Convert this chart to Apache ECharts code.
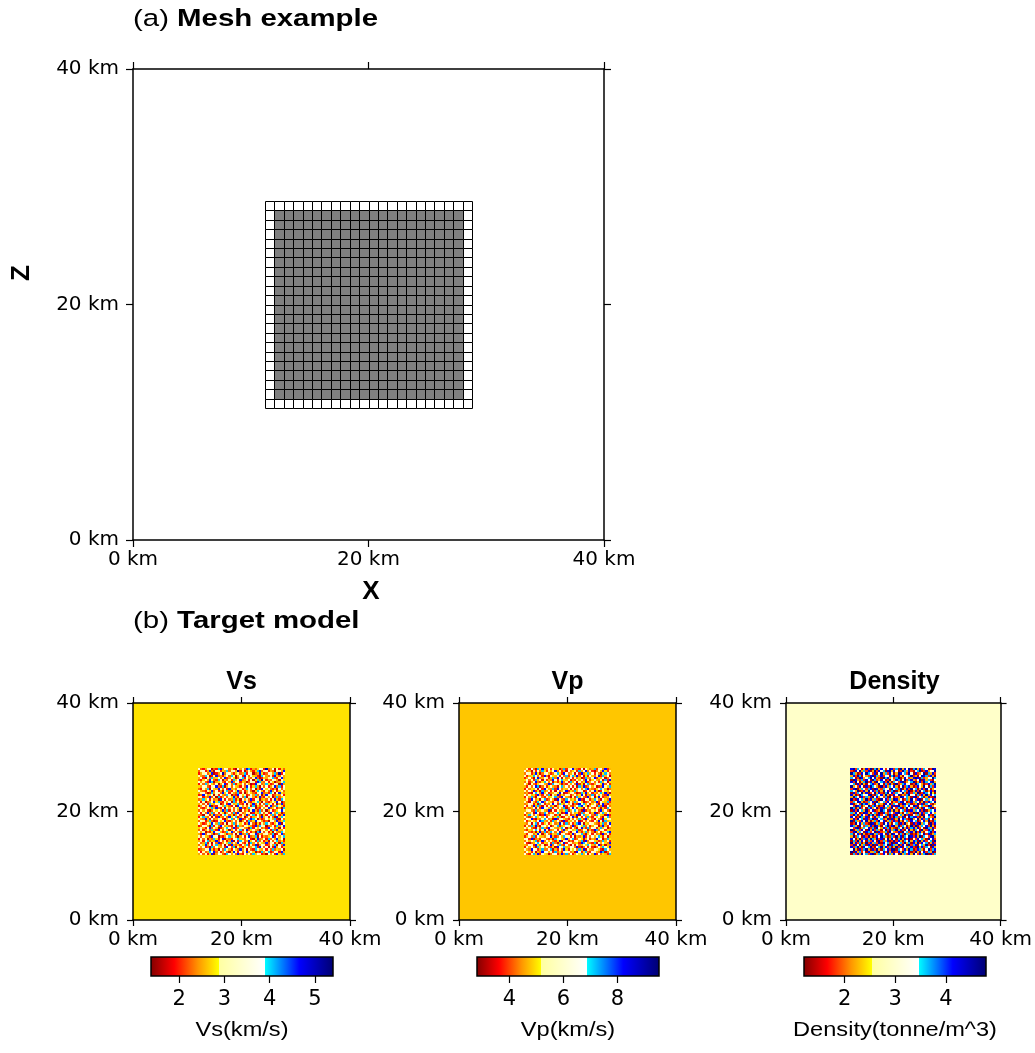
<!DOCTYPE html>
<html><head><meta charset="utf-8">
<script src="https://cdn.jsdelivr.net/npm/echarts@6/dist/echarts.min.js"></script>
<style>html,body{margin:0;padding:0;background:#fff}#c{width:1035px;height:1053px}</style>
</head><body><div id="c"></div>
<script>
// ---------------- DATA ----------------
const domainKm = [0, 40];
const axisTicksKm = [0, 20, 40];
// mesh node positions (km) of panel (a), and the extent of the filled core
const meshNodesKm = [11.2, 12.0, 12.8, 13.6, 14.4, 15.2, 16.0, 16.8, 17.6, 18.4, 19.2, 20.0,
                     20.8, 21.6, 22.4, 23.2, 24.0, 24.8, 25.6, 26.4, 27.2, 28.0, 28.8];
const meshCoreKm = [12, 28];
// extent of the perturbed block in the target models (km)
const anomalyExtentKm = [12, 28];

// colour-scale breakpoints: [min, end of warm part, end of pale part, max]
const vsScale = [1.38, 2.88, 3.89, 5.40];
const vpScale = [2.80, 5.19, 6.86, 9.54];
const densityScale = [1.20, 2.54, 3.46, 4.79];
const vsBarTicks = [2, 3, 4, 5];
const vpBarTicks = [4, 6, 8];
const densityBarTicks = [2, 3, 4];

// background values of each model
const vsBackground = 2.76;
const vpBackground = 4.80;
const densityBackground = 2.94;

// values represented by each code digit in the grids below
const vsLevels = [1.6, 1.95, 2.25, 2.5, 2.72, 3.0, 3.45, 4.05, 4.6, 5.15];
const vpLevels = [3.3, 3.8, 4.3, 4.7, 5.0, 5.5, 6.3, 7.2, 8.2, 9.1];
const densityLevels = [1.35, 1.8, 2.2, 3.3, 2.45, 2.8, 3.1, 3.65, 4.2, 4.6];

// perturbed block, top row first, 40 x 40 cells of level codes
const vsRows = [
"6213560217 8365241063 5287132465 1923605142","2561382065 1437256391 6025314782 5613206538",
"1356248013 6925631452 3716502384 1265372916","5327601582 3146275036 1852643107 6325184263",
"3610527346 2581364025 7163258201 4356721583","2146385217 6032517468 2351604729 5132653064",
"6352187034 5216382561 4302651873 2615402357","1527364250 3681527143 6253018562 3741265083",
"4365215682 1703526431 5286147305 2613582716","2153706438 5261834265 1375260318 6452130625",
"6321548261 3057216482 6135204763 1528361452","3562017365 2846153271 5036421568 2317506843",
"1285346051 6327502186 4512637250 3865124361","5613282507 1362548316 2705631482 1536027245",
"2374615230 8516237140 6352816503 4261583176","6150236847 2153607251 3862145730 6213548602",
"3526174365 0261853472 1605382516 2745160382","1362580216 5374216085 3526170423 6158237541",
"5213647382 1605362548 2137560216 3582461307","2635102546 3827152630 6241583172 5036124685",
"6152837261 5403627185 2365014376 2518637402","3206514823 1675240361 5382671520 4163725138",
"1573260518 3252846713 6025134628 3516208475","5328416235 6103572648 1263875031 2645371062",
"2651372016 4582136250 3617248563 1205638247","6312548637 2150637264 5138620415 3762145806",
"1265307152 8634215073 2654318276 5023617358","4531682640 1357628125 6320715462 3186524061",
"2613527318 5264036157 1582463205 6351728436","6350214865 3127582631 4625130786 2514063275",
"3182653027 6541326058 2371658142 5632701582","5264318560 2136745203 6158237061 3245816357",
"1625032741 5803216574 3265104823 6172538460","3516724382 6251380617 5238461725 1306257241",
"6237150628 1364725386 2150736254 3825614073","2548361573 2605183241 6371528036 5126370528",
"5361207264 3518627053 1462357186 2605183614","1236584130 6275316428 3506217543 6152724360",
"6152376825 1362048516 2583640217 3571265183","3625148036 5217635282 1635274651 2063518427"];
const vpRows = [
"3516207483 2615340271 5683216054 2371562813","6230516274 1536825130 6245173682 5102638415",
"2651384025 6312574186 2350618247 3615204752","5134762518 2064351627 1573826041 6325817360",
"1362058236 5137286052 3615240173 2581436025","4625173605 1328615743 6021536285 1463250718",
"2513682147 6250314825 1736052481 3625173604","6305214563 2817653021 5362814057 2136548261",
"3152687025 1463205736 2615073812 6350128547","1624350618 5327186243 6051362578 3214675302",
"5263814072 3615062358 1427365016 2583016435","2310675284 6123548601 3562017483 6132574820",
"6253418316 2705381426 5136248503 2716352184","1637205621 5346721863 2051736218 3604851236",
"3518624057 1263085217 6342581065 1375206428","5206317582 6431526038 1527364012 5238164371",
"2365140761 3258617425 3602185736 1462058213","6152837205 1624035681 5213678540 3651728062",
"1423605186 5371526370 2685143062 6215304175","3562172453 2806153247 1367520813 2546183620",
"6235086127 5132674018 6253417265 1380257364","1476253018 2365130562 5123806734 6217543081",
"5213674536 1652473015 3682051627 3154620572","2658103257 6230815642 1526374183 5206318465",
"6135426873 2517362081 4352601526 2163850734","3260571614 5146238517 2613785043 6532147258",
"1527382056 3602571346 5281364725 1365028316","5362105273 1865324760 3162058317 2651473502",
"2143676158 5023615283 6534712650 3187256143","6521304827 1376258136 2056831472 5203614578",
"3165248503 6214370562 1382657204 6152308261","1352716432 5683126375 5160324815 2635741503",
"5618023165 2130756428 3671254036 1328560274","2536471382 6352148065 1215637082 5643127351",
"6102357614 3617203581 6523418763 2170536428","3265184250 1582637216 2061523547 6325814032",
"1536207463 5214086573 3652810261 5102637548","5328651372 2670315284 1546273805 3265410763",
"2641503286 6351724156 5230861472 1653287025","6215738154 3025613827 2613547360 5381624317"];
const densityRows = [
"8917302819 0792861398 1709283907 9281730198","1083927180 2918370892 8301972810 3790182639",
"9720183976 1803927185 0298371960 8123907281","2819703218 9072816307 9182036791 2039871820",
"7301982679 3821097823 1790283128 9807123697","0982171830 9712830196 2870391782 1390827103",
"8193027918 2093781920 7318902679 0281973892","3708192037 8129307182 0912786301 9732018279",
"9261830819 7320918273 8203917820 1862930718","1890273178 0982173609 3719028193 7028193026",
"7329018293 8170293817 9028371902 8193702819","0817392801 3928107938 1763920817 2901873940",
"8201973689 1073829201 8390217963 0718292837","2973081720 9382617093 0129837208 9137028109",
"9108372918 2710938172 9823017293 1890372681","1739820173 8092371860 2178930182 7302918739",
"8023197826 1937208391 7301982701 2918073102","3198702391 7820193728 0892173869 8037219826",
"9702813078 2391807219 3178029317 1920837091","0819372913 8012973082 9203718082 7381902738",
"7283019820 3719082173 1892037219 0928173862","1970283197 9208137091 8037291803 2719038107",
"8301972803 1827390281 9712803978 8102937219","2819370817 9083712908 0293871092 3928170382",
"9072183920 2719380271 8192037183 7013829107","0193827109 8027193820 3708192608 1892730918",
"8720931728 1982037918 9281730291 9027381920","3189027381 7093281702 1073928178 2813097281",
"9027183092 8172039182 7928103920 7309218703","1892730871 3908127093 2180937182 9182037918",
"7038192018 9271830829 8307192701 0273918027","2917308192 0183972017 1928073981 8290731892",
"8302917829 7291803928 3079281903 1837209381","0719283071 8309172801 9182073928 7092813709",
"9281702918 2719083719 0837192708 2918370281","1803927081 9082173908 7291830917 8037291908",
"8179208379 1037928170 2918037281 0928173082","3920817920 8192073819 9073182970 1872039178",
"9082713082 2709381928 0182973801 9203817290","0718293718 9027183072 8309271829 3182790817"];

// ---------------- COLOUR MAP (style) ----------------
const SEG_WARM = [[0,'#800000'],[0.35,'#ff0000'],[0.7,'#ff9600'],[1,'#ffff00']];
const SEG_PALE = [[0,'#ffffa0'],[1,'#ffffff']];
const SEG_COOL = [[0,'#00ffff'],[0.5,'#0000ff'],[1,'#000070']];
function hexRgb(h){return [1,3,5].map(i=>parseInt(h.slice(i,i+2),16));}
function interp(stops,u){
  u=Math.max(0,Math.min(1,u));
  for(let i=1;i<stops.length;i++){
    if(u<=stops[i][0]){
      const [u0,c0]=stops[i-1],[u1,c1]=stops[i];
      const t=(u-u0)/((u1-u0)||1);const a=hexRgb(c0),b=hexRgb(c1);
      return 'rgb('+a.map((x,k)=>Math.round(x+(b[k]-x)*t)).join(',')+')';
    }
  }
  return stops[stops.length-1][1];
}
function cmap(v,s){
  const [mn,a,b,mx]=s;
  if(v<a) return interp(SEG_WARM,(v-mn)/(a-mn));
  if(v<b) return interp(SEG_PALE,(v-a)/(b-a));
  return interp(SEG_COOL,(v-b)/(mx-b));
}
function sampledColors(s){const out=[];const N=361;for(let i=0;i<N;i++){out.push(cmap(s[0]+(s[3]-s[0])*i/(N-1),s));}return out;}
function barStops(s){
  const [mn,a,b,mx]=s,span=mx-mn;const out=[];
  [[mn,a,SEG_WARM],[a,b,SEG_PALE],[b,mx,SEG_COOL]].forEach(([lo,hi,st])=>
    st.forEach(([u,c])=>out.push({offset:(lo+u*(hi-lo)-mn)/span,color:c})));
  return out;
}

// ---------------- BUILD SERIES DATA ----------------
function buildField(rows,levels,bg){
  const data=[[domainKm[0],domainKm[0],domainKm[1],domainKm[1],bg]];
  const grid=rows.map(r=>r.replace(/\s/g,''));
  const [e0,e1]=anomalyExtentKm;const dy=(e1-e0)/grid.length;
  grid.forEach((row,r)=>{
    const dx=(e1-e0)/row.length;
    for(let c=0;c<row.length;c++){
      const y1=e1-r*dy;
      data.push([e0+c*dx,y1-dy,e0+(c+1)*dx,y1,levels[+row[c]]]);
    }
  });
  return data;
}
const meshData=[];
for(let i=0;i<meshNodesKm.length-1;i++){
  for(let j=0;j<meshNodesKm.length-1;j++){
    const x0=meshNodesKm[i],x1=meshNodesKm[i+1],y0=meshNodesKm[j],y1=meshNodesKm[j+1];
    const e=1e-6;
    const core=(x0>=meshCoreKm[0]-e&&x1<=meshCoreKm[1]+e&&y0>=meshCoreKm[0]-e&&y1<=meshCoreKm[1]+e)?1:0;
    meshData.push([x0,y0,x1,y1,core]);
  }
}

// ---------------- LAYOUT ----------------
const FONT='DejaVu Sans';
const panels=[
  {title:'Vs',unit:'Vs(km/s)',scale:vsScale,ticks:vsBarTicks,rows:vsRows,levels:vsLevels,bg:vsBackground,left:133,barLeft:151},
  {title:'Vp',unit:'Vp(km/s)',scale:vpScale,ticks:vpBarTicks,rows:vpRows,levels:vpLevels,bg:vpBackground,left:459,barLeft:477},
  {title:'Density',unit:'Density(tonne/m^3)',scale:densityScale,ticks:densityBarTicks,rows:densityRows,levels:densityLevels,bg:densityBackground,left:786,barLeft:804}
];

const grid=[],xAxis=[],yAxis=[],series=[],visualMap=[],graphic=[];
function frameAxes(gi,tickLen,labMarginX,labMarginY){
  const line={show:true,onZero:false,lineStyle:{color:'#000',width:1.5}};
  const tick={show:true,length:tickLen,lineStyle:{color:'#000',width:1.2}};
  const lab={color:'#000',fontFamily:FONT,fontSize:20,formatter:'{value} km'};
  const base={type:'value',gridIndex:gi,min:domainKm[0],max:domainKm[1],interval:axisTicksKm[1]-axisTicksKm[0],splitLine:{show:false},z:10};
  const xb=xAxis.length;
  xAxis.push(Object.assign({},base,{position:'bottom',axisLine:line,axisTick:tick,axisLabel:Object.assign({margin:labMarginX},lab)}));
  xAxis.push(Object.assign({},base,{position:'top',axisLine:line,axisTick:tick,axisLabel:{show:false}}));
  const yl=yAxis.length;
  yAxis.push(Object.assign({},base,{position:'left',axisLine:line,axisTick:tick,axisLabel:Object.assign({margin:labMarginY},lab)}));
  yAxis.push(Object.assign({},base,{position:'right',axisLine:line,axisTick:tick,axisLabel:{show:false}}));
  return [xb,yl];
}

// panel (a)
grid.push({left:133,top:69,width:471,height:471});
let [xa,ya]=frameAxes(0,7,10,14);
series.push({type:'custom',xAxisIndex:xa,yAxisIndex:ya,data:meshData,encode:{x:[0,2],y:[1,3]},z:2,
  renderItem:(p,api)=>{
    const a=api.coord([api.value(0),api.value(3)]),b=api.coord([api.value(2),api.value(1)]);
    const x=Math.round(a[0])+0.5,y=Math.round(a[1])+0.5;
    return {type:'rect',shape:{x:x,y:y,width:Math.round(b[0])-Math.round(a[0]),height:Math.round(b[1])-Math.round(a[1])},
      style:{fill:api.value(4)?'#808080':'#ffffff',stroke:'#000',lineWidth:1}};
  }});

// panel (b)
panels.forEach((P,k)=>{
  const gi=grid.length;
  grid.push({left:P.left,top:703,width:217,height:217});
  const [xi,yi]=frameAxes(gi,6,10,14);
  const si=series.length;
  series.push({type:'custom',xAxisIndex:xi,yAxisIndex:yi,data:buildField(P.rows,P.levels,P.bg),encode:{x:[0,2],y:[1,3]},z:2,
    renderItem:(p,api)=>{
      const a=api.coord([api.value(0),api.value(3)]),b=api.coord([api.value(2),api.value(1)]);
      const x=Math.round(a[0]),y=Math.round(a[1]);
      return {type:'rect',shape:{x:x,y:y,width:Math.round(b[0])-x,height:Math.round(b[1])-y},style:{fill:api.visual('color')}};
    }});
  visualMap.push({type:'continuous',show:false,seriesIndex:si,dimension:4,min:P.scale[0],max:P.scale[3],inRange:{color:sampledColors(P.scale)}});
  // colour bar
  const cg=grid.length;
  grid.push({left:P.barLeft,top:957,width:182,height:19});
  const cx=xAxis.length;
  xAxis.push({type:'value',gridIndex:cg,min:P.scale[0],max:P.scale[3],position:'bottom',splitLine:{show:false},
    axisLine:{show:false},
    axisTick:{show:true,length:7,customValues:P.ticks,lineStyle:{color:'#000',width:1.2}},
    axisLabel:{show:true,customValues:P.ticks,margin:13,color:'#000',fontFamily:FONT,fontSize:21}});
  const cy=yAxis.length;
  yAxis.push({type:'value',gridIndex:cg,min:0,max:1,show:false});
  const stops=barStops(P.scale);
  series.push({type:'custom',xAxisIndex:cx,yAxisIndex:cy,data:[[P.scale[0],P.scale[3]]],encode:{x:[0,1]},
    renderItem:(p,api)=>{
      const a=api.coord([api.value(0),1]),b=api.coord([api.value(1),0]);
      return {type:'rect',shape:{x:a[0],y:a[1],width:b[0]-a[0],height:b[1]-a[1]},
        style:{fill:new echarts.graphic.LinearGradient(0,0,1,0,stops),stroke:'#000',lineWidth:1.5}};
    }});
  // texts
  graphic.push({type:'text',x:P.left+108.5,y:682,style:{text:P.title,fontFamily:'Liberation Sans',fontWeight:'bold',fontSize:25,fill:'#000',align:'center',verticalAlign:'middle'}});
  graphic.push({type:'text',x:P.barLeft+91,y:1031,scaleX:1.21,style:{text:P.unit,fontFamily:'Liberation Sans',fontSize:19.5,fill:'#000',align:'center',verticalAlign:'middle'}});
});

graphic.push({type:'text',x:133,y:19,scaleX:1.2,style:{text:'{n|(a) }{b|Mesh example}',align:'left',verticalAlign:'middle',
  rich:{n:{fontFamily:'Liberation Sans',fontSize:24.5,fill:'#000'},b:{fontFamily:'Liberation Sans',fontSize:24.5,fontWeight:'bold',fill:'#000'}}}});
graphic.push({type:'text',x:133,y:621,scaleX:1.2,style:{text:'{n|(b) }{b|Target model}',align:'left',verticalAlign:'middle',
  rich:{n:{fontFamily:'Liberation Sans',fontSize:24.5,fill:'#000'},b:{fontFamily:'Liberation Sans',fontSize:24.5,fontWeight:'bold',fill:'#000'}}}});
graphic.push({type:'text',x:22,y:273,rotation:Math.PI/2,style:{text:'Z',fontFamily:'Liberation Sans',fontWeight:'bold',fontSize:26,fill:'#000',align:'center',verticalAlign:'middle'}});
graphic.push({type:'text',x:371,y:592,style:{text:'X',fontFamily:'Liberation Sans',fontWeight:'bold',fontSize:26,fill:'#000',align:'center',verticalAlign:'middle'}});

const chart=echarts.init(document.getElementById('c'),null,{renderer:'canvas'});
chart.setOption({animation:false,backgroundColor:'#ffffff',grid,xAxis,yAxis,series,visualMap,graphic});
</script></body></html>
